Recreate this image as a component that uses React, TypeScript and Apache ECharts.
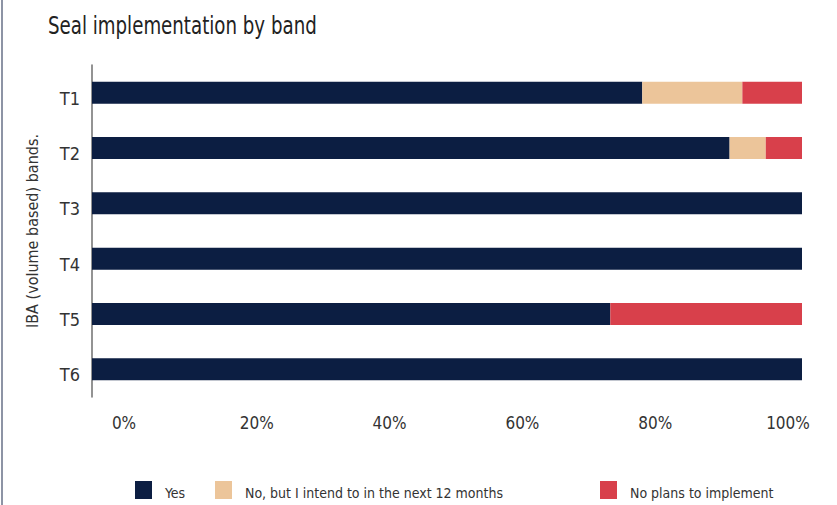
import React, { useEffect, useRef } from "react";
import * as echarts from "echarts";

const categories = ["T1", "T2", "T3", "T4", "T5", "T6"];
const seriesNames = ["Yes", "No, but I intend to in the next 12 months", "No plans to implement"];
const yesValues = [77.5, 89.8, 100, 100, 73, 100];
const intendValues = [14.1, 5.1, 0, 0, 0, 0];
const noPlansValues = [8.4, 5.1, 0, 0, 27, 0];
const colors = ["#0c1e42", "#ecc59a", "#d8404b"];
const titleText = "Seal implementation by band";

const FONT = "'Liberation Sans Narrow', 'DejaVu Sans Condensed', 'Roboto', sans-serif";

export default function App() {
  const ref = useRef<HTMLDivElement>(null);
  useEffect(() => {
    document.body.style.margin = "0";
    const chart = echarts.init(ref.current!, null, { renderer: "svg" });
    const values = [yesValues, intendValues, noPlansValues];
    const legendLefts = [130, 210, 595];
    chart.setOption({
      animation: false,
      backgroundColor: "#ffffff",
      textStyle: { fontFamily: FONT },
      legend: seriesNames.map((n, i) => ({
        data: [n],
        left: legendLefts[i],
        top: 476,
        itemWidth: 17,
        itemHeight: 18,
        itemGap: 0,
        icon: "rect",
        formatter: "{a|{name}}",
        textStyle: {
          fontFamily: FONT,
          fontSize: 14,
          color: "#333333",
          rich: { a: { fontFamily: FONT, fontSize: 14, color: "#333333", padding: [6, 0, 0, 8] } },
        },
      })),
      graphic: [
        { type: "rect", left: 1, top: 0, shape: { width: 2, height: 505 }, style: { fill: "#8d94a5" } },
        {
          type: "text",
          x: 48,
          y: 13,
          scaleX: 0.81,
          style: {
            text: titleText,
            fontFamily: FONT,
            fontSize: 25,
            fill: "#222222",
            verticalAlign: "top",
          },
        },
      ],
      grid: [
        { left: 92, right: 35, top: 65, bottom: 108 },
        { left: 124, right: 49, top: 65, bottom: 108 },
      ],
      xAxis: [
        { type: "value", gridIndex: 0, min: 0, max: 100, show: false },
        {
          type: "value",
          gridIndex: 1,
          min: 0,
          max: 100,
          interval: 20,
          axisLine: { show: false },
          axisTick: { show: false },
          splitLine: { show: false },
          axisLabel: {
            formatter: "{value}%",
            margin: 17,
            fontFamily: FONT,
            fontSize: 17,
            color: "#333333",
          },
        },
      ],
      yAxis: [
        {
          type: "category",
          gridIndex: 0,
          data: categories,
          inverse: true,
          name: "IBA (volume based) bands.",
          nameLocation: "middle",
          nameGap: 52,
          nameTextStyle: { fontFamily: FONT, fontSize: 16, color: "#333333" },
          axisLine: { show: true, lineStyle: { color: "#6f6f6f", width: 1.5 } },
          axisTick: { show: false },
          axisLabel: {
            fontFamily: FONT,
            fontSize: 18,
            color: "#333333",
            margin: 12,
            formatter: "{a|{value}}",
            rich: { a: { fontFamily: FONT, fontSize: 18, color: "#333333", padding: [11, 0, 0, 0] } },
          },
        },
        { type: "category", gridIndex: 1, data: categories, show: false },
      ],
      series: seriesNames.map((n, i) => ({
        name: n,
        type: "bar",
        stack: "total",
        xAxisIndex: 0,
        yAxisIndex: 0,
        barWidth: 22,
        data: values[i],
        itemStyle: { color: colors[i] },
      })),
    });
    return () => chart.dispose();
  }, []);
  return <div ref={ref} style={{ width: 837, height: 505 }} />;
}
